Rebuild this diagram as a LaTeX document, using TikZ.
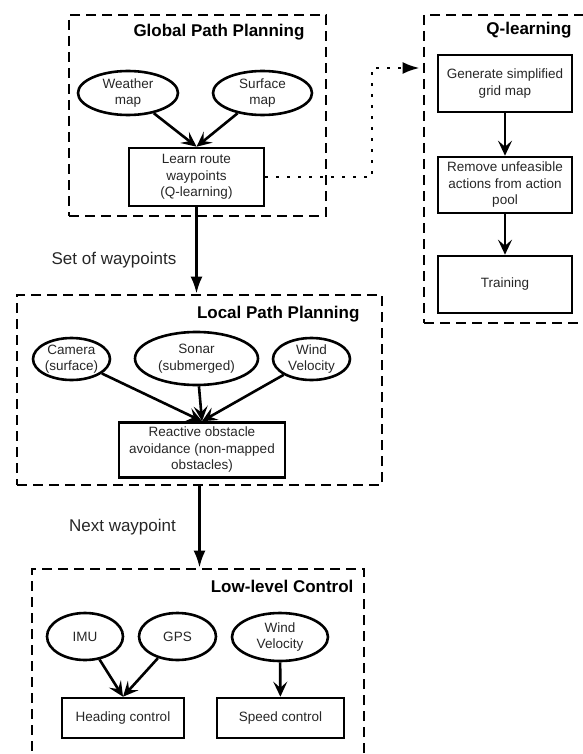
\documentclass[tikz,border=0pt]{standalone}
\usepackage{fontspec}
\setmainfont{Liberation Sans}
\usetikzlibrary{arrows.meta,shapes.geometric}

\begin{document}
\begin{tikzpicture}[x=1pt, y=-1pt,
    every node/.style={font=\fontsize{13.5}{16.5}\selectfont, text=black!85},
    group/.style={draw, line width=2.7pt, dash pattern=on 10pt off 6pt, minimum width=#1},
    grouptitle/.style={font=\fontsize{17}{20}\selectfont\bfseries, anchor=base east, text=black},
    sensor/.style={draw, ellipse, line width=2.6pt, align=center, inner sep=0pt},
    task/.style={draw, rectangle, line width=2.6pt, align=center, inner sep=0pt},
    link/.style={-{Stealth[length=15pt,width=14pt,inset=6pt]}, line width=2.6pt},
    flow/.style={-{Latex[length=17pt,width=12pt]}, line width=2.6pt},
    flowlabel/.style={font=\fontsize{17}{20}\selectfont, anchor=east}]
    \useasboundingbox (0,0) rectangle (582,754);
    % planning groups
    \node[group=257pt, minimum height=201pt] (gpp) at (197.5,115.5) {};
    \node[grouptitle] (gpptitle) at (308,37) {Global Path Planning};
    \node[group=166pt, minimum height=308pt] (ql) at (507,169) {};
    \node[grouptitle] (qltitle) at (575,35) {Q-learning};
    \node[group=365pt, minimum height=190pt] (lpp) at (199.5,390) {};
    \node[grouptitle] (lpptitle) at (363,318) {Local Path Planning};
    \node[group=332pt, minimum height=220pt] (llc) at (198,679) {};
    \node[grouptitle] (llctitle) at (357,592) {Low-level Control};
    % global path planning
    \node[sensor, minimum width=100pt, minimum height=44pt] (weather) at (128,93) {Weather\\map};
    \node[sensor, minimum width=99pt, minimum height=44pt] (surface) at (262.5,93) {Surface\\map};
    \node[task, minimum width=135pt, minimum height=58pt] (learn) at (196.5,177) {Learn route\\waypoints\\(Q-learning)};
    \draw[link] (weather) -- (learn.north);
    \draw[link] (surface) -- (learn.north);
    % q-learning
    \node[task, minimum width=134pt, minimum height=57pt] (generate) at (505,83.5) {Generate simplified\\grid map};
    \node[task, minimum width=134pt, minimum height=56pt] (remove) at (505,185) {Remove unfeasible\\actions from action\\pool};
    \node[task, minimum width=134pt, minimum height=57pt] (training) at (505,284.5) {Training};
    \draw[link] (generate) -- (remove);
    \draw[link] (remove) -- (training);
    \coordinate (bend) at (372,68);
    \draw[-{Latex[length=17pt,width=12pt]}, line width=2.7pt, dash pattern=on 2.7pt off 8.3pt, shorten >=3pt]
      (learn.east) -| (bend) -- (bend -| ql.west);
    % local path planning
    \node[sensor, minimum width=77pt, minimum height=42pt] (camera) at (71.5,359) {Camera\\(surface)};
    \node[sensor, minimum width=123pt, minimum height=53pt] (sonar) at (196.5,358.5) {Sonar\\(submerged)};
    \node[sensor, minimum width=77pt, minimum height=42pt] (windl) at (311.5,359) {Wind\\Velocity};
    \node[task, minimum width=166pt, minimum height=55pt] (reactive) at (202,450) {Reactive obstacle\\avoidance (non-mapped\\obstacles)};
    \draw[link] (camera) -- (reactive.north);
    \draw[link] (sonar) -- (reactive.north);
    \draw[link] (windl) -- (reactive.north);
    % low-level control
    \node[sensor, minimum width=76pt, minimum height=47pt] (imu) at (85,636.5) {IMU};
    \node[sensor, minimum width=77pt, minimum height=47pt] (gps) at (177.5,636.5) {GPS};
    \node[sensor, minimum width=96pt, minimum height=48pt] (windc) at (280,637) {Wind\\Velocity};
    \node[task, minimum width=122pt, minimum height=40pt] (heading) at (123,718) {Heading control};
    \node[task, minimum width=127pt, minimum height=40pt] (speed) at (280.5,718) {Speed control};
    \draw[link] (imu) -- (heading.north);
    \draw[link] (gps) -- (heading.north);
    \draw[link] (windc) -- (speed);
    % between the levels
    \draw[flow] (learn.south) -- node[flowlabel, pos=0.61, xshift=-15.5pt] (setlabel) {Set of waypoints} (learn.south |- lpp.north);
    \draw[flow] (lpp.south) -- node[flowlabel, pos=0.5, xshift=-19pt] (nextlabel) {Next waypoint} (lpp.south |- llc.north);
  \end{tikzpicture}
\end{document}
